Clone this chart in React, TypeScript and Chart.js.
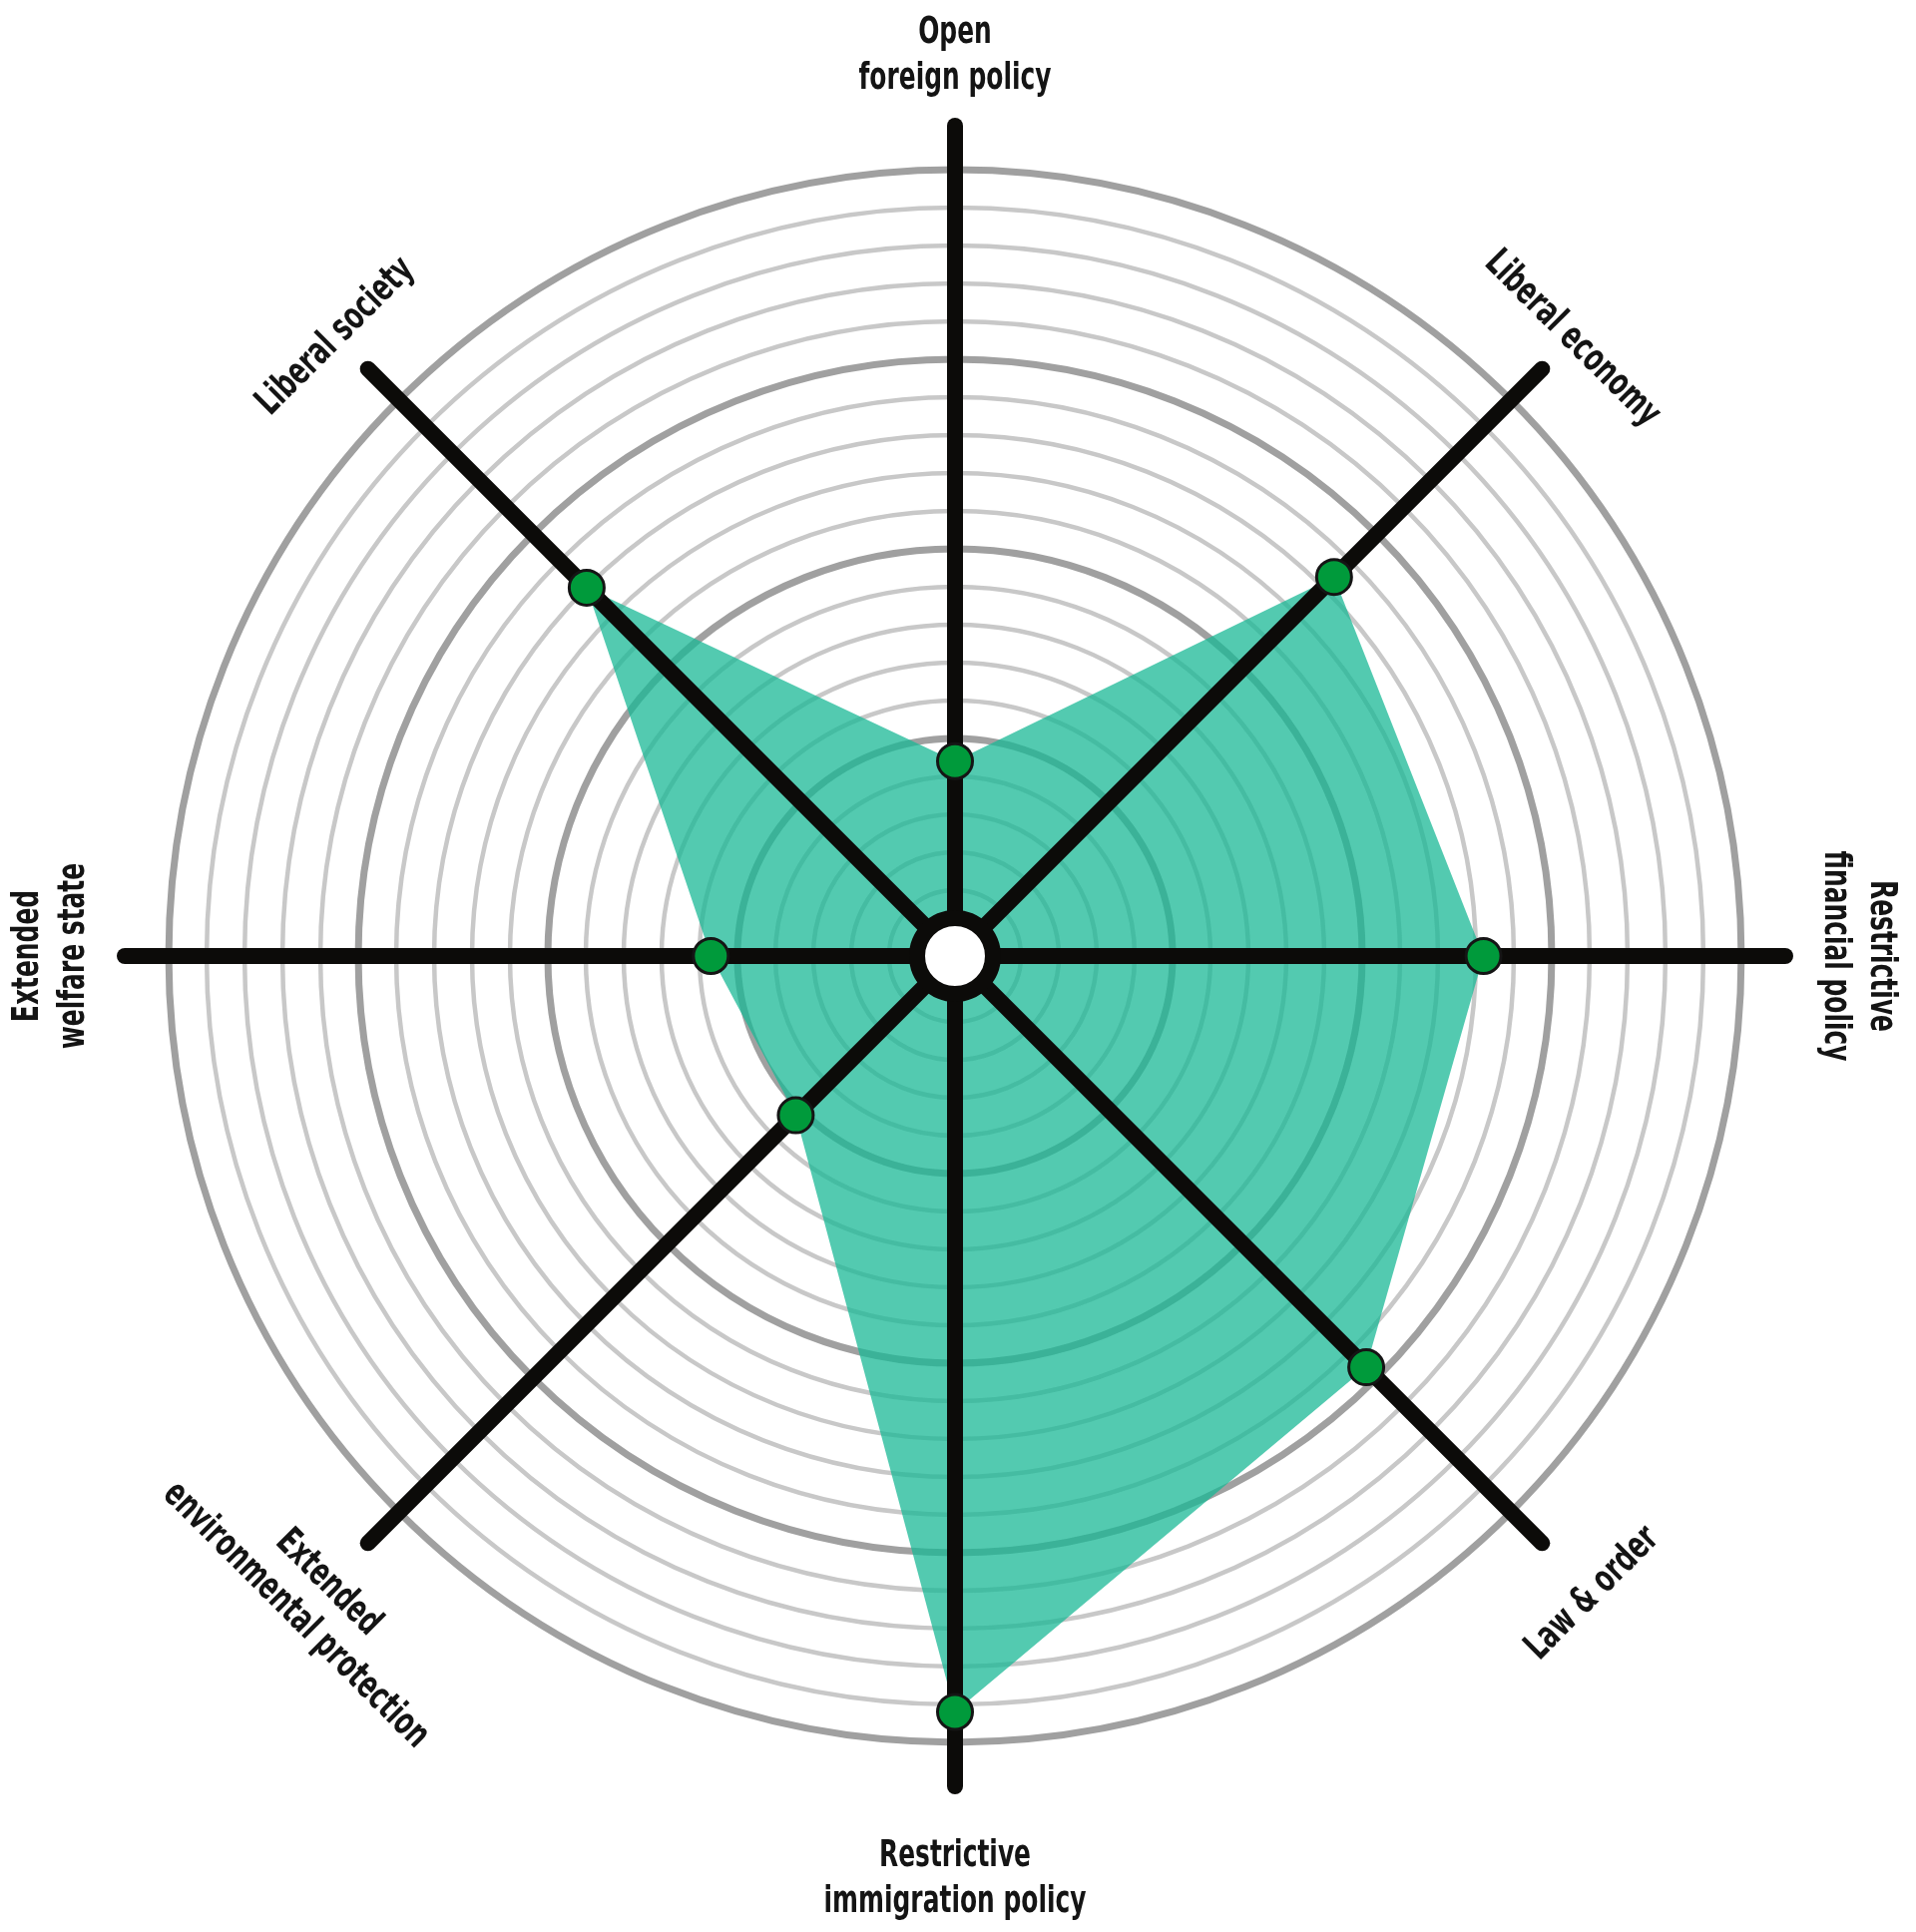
import React, { useEffect, useRef } from "react";
import { Chart, registerables } from "chart.js";

Chart.register(...registerables);

// ---------- data ----------
const CATEGORIES: string[][] = [
  ["Open", "foreign policy"],
  ["Liberal economy"],
  ["Restrictive", "financial policy"],
  ["Law & order"],
  ["Restrictive", "immigration policy"],
  ["Extended", "environmental protection"],
  ["Extended", "welfare state"],
  ["Liberal society"],
];
const VALUES = [22, 67, 66, 73, 96, 26, 28.5, 65];

// scale: rings every 5, heavy rings every 25, 0..100
const RING_STEP = 5;
const MAJOR_STEP = 25;
const RING_MAX = 100;
const SCALE_MIN = -3.7; // value 0 sits on the hub edge
const SCALE_MAX = 105.8; // spokes run past the 100 ring

// ---------- layout / style ----------
const W = 1920;
const H = 1936;
const LABEL_DIST = [906, 878, 908, 900, 921, 908, 910, 881];
const FONT_SIZE = 38;
const CAP_H = 27;
const LINE_H = 46;
const REF_LINE_WIDTH = 193; // pixel width of "foreign policy" in the reference
const FONT_FAMILY = "'Liberation Sans Narrow', 'DejaVu Sans Condensed', 'Liberation Sans', sans-serif";

const ringValues: number[] = [];
for (let v = 0; v <= RING_MAX; v += RING_STEP) ringValues.push(v);

const overlayPlugin = {
  id: "overlay",
  afterDatasetDraw(chart: any, args: any) {
    if (args.index !== 0) return;
    const scale = chart.scales.r;
    const ctx = chart.ctx as CanvasRenderingContext2D;
    const outer = scale.getDistanceFromCenterForValue(scale.max);
    ctx.save();
    ctx.strokeStyle = "#0c0b09";
    ctx.lineWidth = 16;
    ctx.lineCap = "round";
    for (let i = 0; i < CATEGORIES.length; i++) {
      const p = scale.getPointPosition(i, outer);
      ctx.beginPath();
      ctx.moveTo(scale.xCenter, scale.yCenter);
      ctx.lineTo(p.x, p.y);
      ctx.stroke();
    }
    // hub
    ctx.beginPath();
    ctx.arc(scale.xCenter, scale.yCenter, 38, 0, Math.PI * 2);
    ctx.fillStyle = "#ffffff";
    ctx.fill();
    ctx.lineWidth = 16;
    ctx.stroke();
    ctx.restore();
  },
  afterDraw(chart: any) {
    const scale = chart.scales.r;
    const ctx = chart.ctx as CanvasRenderingContext2D;
    ctx.save();
    ctx.font = `bold ${FONT_SIZE}px ${FONT_FAMILY}`;
    const k = REF_LINE_WIDTH / ctx.measureText(CATEGORIES[0][1]).width;
    ctx.fillStyle = "#141414";
    ctx.textAlign = "center";
    ctx.textBaseline = "alphabetic";
    const n = CATEGORIES.length;
    CATEGORIES.forEach((lines, i) => {
      const p = scale.getPointPosition(i, LABEL_DIST[i]);
      let deg = (i * 360) / n;
      if (deg > 90 && deg < 270) deg -= 180;
      else if (deg >= 270) deg -= 360;
      ctx.save();
      ctx.translate(p.x, p.y);
      ctx.rotate((deg * Math.PI) / 180);
      ctx.scale(k, 1);
      const blockH = CAP_H + (lines.length - 1) * LINE_H;
      lines.forEach((t, j) => {
        ctx.fillText(t, 0, -blockH / 2 + CAP_H + j * LINE_H);
      });
      ctx.restore();
    });
    ctx.restore();
  },
};

export default function App() {
  const ref = useRef<HTMLCanvasElement | null>(null);
  useEffect(() => {
    if (!ref.current) return;
    const chart = new Chart(ref.current, {
      type: "radar",
      data: {
        labels: CATEGORIES,
        datasets: [
          {
            data: VALUES,
            fill: "start",
            backgroundColor: "rgba(26,184,150,0.75)",
            borderWidth: 0,
            pointRadius: 0,
            pointHoverRadius: 0,
            order: 2,
          },
          {
            data: VALUES,
            fill: false,
            showLine: false,
            borderWidth: 0,
            pointRadius: 17.5,
            pointHoverRadius: 17.5,
            pointBackgroundColor: "#009a3b",
            pointBorderColor: "#151515",
            pointBorderWidth: 3,
            order: 1,
          },
        ],
      },
      options: {
        responsive: false,
        maintainAspectRatio: false,
        devicePixelRatio: 1,
        animation: false,
        events: [],
        layout: { padding: { left: 125, right: 131, top: 126, bottom: 146 } },
        plugins: { legend: { display: false }, tooltip: { enabled: false } },
        scales: {
          r: {
            min: SCALE_MIN,
            max: SCALE_MAX,
            afterBuildTicks: (scale: any) => {
              scale.ticks = ringValues.map((v) => ({ value: v }));
            },
            ticks: { display: false },
            pointLabels: { display: false },
            angleLines: { display: false },
            grid: {
              circular: true,
              color: (c: any) =>
                c.tick && c.tick.value % MAJOR_STEP === 0 ? "#a0a0a0" : "#c8c8c8",
              lineWidth: (c: any) =>
                c.tick && c.tick.value % MAJOR_STEP === 0 ? 7 : 4.5,
            },
          },
        },
      },
      plugins: [overlayPlugin],
    } as any);
    return () => chart.destroy();
  }, []);
  return (
    <canvas
      ref={ref}
      width={W}
      height={H}
      style={{ position: "absolute", left: 0, top: 0, width: W, height: H }}
    />
  );
}
